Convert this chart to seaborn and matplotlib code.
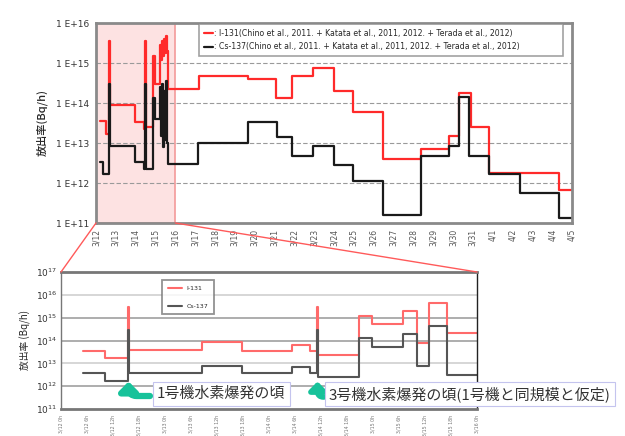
import matplotlib
matplotlib.use("Agg")
import matplotlib.pyplot as plt
from matplotlib.patches import ConnectionPatch
import seaborn as sns

# top chart: days since 3/12 0:00, release rate (Bq/h), step values
top_day_i131 = [0.20, 0.50, 0.66, 0.71, 1.97, 2.42, 2.47, 2.52, 2.87, 2.97, 3.23, 3.28, 3.33, 3.38, 3.43,
                3.48, 3.53, 3.58, 3.63, 5.20, 7.67, 9.10, 9.88, 10.94, 12.00, 12.96, 14.47, 16.39, 17.80,
                18.30, 18.90, 19.82, 23.35, 24.00]
top_i131 = [3.5e13, 1.7e13, 3.5e15, 9.0e13, 3.4e13, 2.3e13, 3.5e15, 2.5e13, 1.5e15, 3.0e14, 2.8e15, 1.2e15,
            3.5e15, 1.5e15, 4.0e15, 1.8e15, 4.6e15, 2.0e15, 2.2e14, 4.6e14, 4.0e14, 1.35e14, 4.6e14, 7.3e14,
            2.0e14, 5.8e13, 3.9e12, 6.9e12, 1.5e13, 1.8e14, 2.5e13, 1.8e12, 6.5e11, 6.5e11]
top_day_cs137 = [0.20, 0.35, 0.66, 0.71, 1.97, 2.42, 2.47, 2.52, 2.87, 2.97, 3.23, 3.28, 3.33, 3.38, 3.43,
                 3.48, 3.53, 3.58, 3.63, 5.15, 7.67, 9.13, 9.88, 10.94, 12.00, 12.96, 14.47, 16.39, 17.80,
                 18.30, 18.80, 19.82, 21.38, 23.35, 24.00]
top_cs137 = [3.3e12, 1.7e12, 3.0e14, 8.3e12, 3.3e12, 2.2e12, 3.0e14, 2.2e12, 1.3e14, 4.0e13, 2.5e14, 1.5e13,
             3.0e14, 8.0e12, 2.0e14, 1.2e13, 3.5e14, 1.0e13, 3.0e12, 1.0e13, 3.4e13, 1.4e13, 4.6e12, 8.3e12,
             2.8e12, 1.15e12, 1.6e11, 4.6e12, 8.3e12, 1.4e14, 4.6e12, 1.7e12, 5.7e11, 1.3e11, 1.3e11]
top_dates = ["3/12", "3/13", "3/14", "3/15", "3/16", "3/17", "3/18", "3/19", "3/20", "3/21", "3/22", "3/23",
             "3/24", "3/25", "3/26", "3/27", "3/28", "3/29", "3/30", "3/31", "4/1", "4/2", "4/3", "4/4", "4/5"]
top_yticks = [1e11, 1e12, 1e13, 1e14, 1e15, 1e16]
top_ylabels = ["1 E+11", "1 E+12", "1 E+13", "1 E+14", "1 E+15", "1 E+16"]

# bottom chart: hours since 3/12 0:00
bot_hour = [5.0, 10.2, 15.4, 15.8, 32.5, 41.7, 53.2, 57.4, 59.0, 59.4, 68.8, 71.7, 79.0, 82.1, 85.0, 89.0, 96.0]
bot_i131 = [3.4e13, 1.7e13, 2.9e15, 3.8e13, 8.5e13, 3.4e13, 6.3e13, 3.4e13, 2.9e15, 2.3e13, 1.2e15, 5.3e14,
            1.9e15, 7.8e13, 4.4e15, 2.1e14, 2.1e14]
bot_cs137 = [3.7e12, 1.65e12, 3.0e14, 3.7e12, 8.0e12, 3.7e12, 6.7e12, 3.7e12, 3.0e14, 2.5e12, 1.25e14, 5.0e13,
             1.9e14, 7.4e12, 4.3e14, 3.0e12, 3.0e12]
bot_ticks = list(range(0, 97, 6))
bot_ticklabels = [f"3/{12 + h // 24} {h % 24}h" for h in bot_ticks]

top_legend = [": I-131(Chino et al., 2011. + Katata et al., 2011, 2012. + Terada et al., 2012)",
              ": Cs-137(Chino et al., 2011. + Katata et al., 2011, 2012. + Terada et al., 2012)"]
note1 = "1号機水素爆発の頃"
note2 = "3号機水素爆発の頃(1号機と同規模と仮定)"

sns.set_theme(style="white")
plt.rcParams["font.family"] = ["Noto Sans CJK JP", "DejaVu Sans"]

W, H = 625, 436
fig = plt.figure(figsize=(W / 100, H / 100), dpi=100)
ax1 = fig.add_axes([96 / W, 1 - 223 / H, 476 / W, 200 / H])
ax2 = fig.add_axes([61 / W, 1 - 409 / H, 416 / W, 137 / H])

# ---- top chart
ax1.axvspan(0, 4, facecolor="#fde2e2", edgecolor="#f39a9a", lw=1.2, zorder=0)
sns.lineplot(x=top_day_i131, y=top_i131, ax=ax1, drawstyle="steps-post", color="#ff2a2a", lw=1.6,
             estimator=None, label=top_legend[0])
sns.lineplot(x=top_day_cs137, y=top_cs137, ax=ax1, drawstyle="steps-post", color="#1a1a1a", lw=1.6,
             estimator=None, label=top_legend[1])
ax1.set_yscale("log")
ax1.set_ylim(1e11, 1e16)
ax1.set_xlim(0, 24)
ax1.set_yticks(top_yticks)
ax1.set_yticklabels(top_ylabels, fontsize=6.5, color="#333333", family="DejaVu Sans")
ax1.minorticks_off()
ax1.set_xticks(range(25))
ax1.set_xticklabels(top_dates, rotation=90, fontsize=5.5, color="#555555", family="DejaVu Sans")
ax1.tick_params(axis="x", direction="in", length=3, width=0.6, color="#666666", pad=4)
ax1.tick_params(axis="y", length=0, pad=5)
for y in top_yticks[1:-1]:
    ax1.axhline(y, color="#9a9a9a", lw=0.8, ls=(0, (4, 2)), zorder=0.5)
for s in ax1.spines.values():
    s.set_color("#8a8a8a")
    s.set_linewidth(2)
ax1.set_ylabel("放出率(Bq/h)", fontsize=8, fontweight="medium", labelpad=6)
leg1 = ax1.legend(loc="lower left", bbox_to_anchor=(0.208, 0.815, 0.782, 0.16), mode="expand",
                  handlelength=1.2, handletextpad=0.1, frameon=True, fancybox=False,
                  borderpad=0.6, labelspacing=0.55, prop={"family": "DejaVu Sans", "size": 5.6})
leg1.get_frame().set_edgecolor("#8a8a8a")
leg1.get_frame().set_linewidth(1.2)

# ---- bottom chart
sns.lineplot(x=bot_hour, y=bot_i131, ax=ax2, drawstyle="steps-post", color="#ff6a6a", lw=1.5,
             estimator=None, label="I-131")
sns.lineplot(x=bot_hour, y=bot_cs137, ax=ax2, drawstyle="steps-post", color="#555555", lw=1.5,
             estimator=None, label="Cs-137")
ax2.set_yscale("log")
ax2.set_ylim(1e11, 1e17)
ax2.set_xlim(0, 96)
ax2.minorticks_off()
ax2.set_yticks([10.0 ** k for k in range(11, 18)])
ax2.set_yticklabels([f"$10^{{{k}}}$" for k in range(11, 18)], fontsize=6.5, color="#333333")
ax2.set_xticks(bot_ticks)
ax2.set_xticklabels(bot_ticklabels, rotation=90, fontsize=3.4, color="#777777", family="DejaVu Sans")
ax2.tick_params(axis="x", direction="out", length=2, width=0.6, color="#888888", pad=2)
ax2.tick_params(axis="y", length=0, pad=3)
for k in range(12, 17):
    ax2.axhline(10.0 ** k, color="#a0a0a0" if k in (12, 14, 15) else "#d0d0d0", lw=1.2, zorder=0.5)
for name, s in ax2.spines.items():
    s.set_color("#777777")
    s.set_linewidth(2 if name in ("top", "bottom") else 1)
ax2.spines["right"].set_color("#222222")
ax2.set_ylabel("放出率 (Bq/h)", fontsize=7, labelpad=3)
leg2 = ax2.legend(loc="upper left", bbox_to_anchor=(0.236, 0.965), handlelength=2.2,
                  labelspacing=2.0, borderpad=0.9, frameon=True, fancybox=False,
                  prop={"family": "DejaVu Sans", "size": 4.5})
leg2.get_frame().set_edgecolor("#777777")
leg2.get_frame().set_linewidth(1.3)

# connectors from the zoomed span
for xa, xb in [(0, 0), (4, 96)]:
    con = ConnectionPatch(xyA=(xa, 1e11), coordsA=ax1.transData, xyB=(xb, 1e17), coordsB=ax2.transData,
                          color="#ff5a5a", lw=1)
    fig.add_artist(con)

# notes
green = "#17c29a"
box = dict(boxstyle="square,pad=0.3", facecolor="white", edgecolor="#c4c4ee", lw=0.8)
fig.text(157 / W, 1 - 394 / H, note1, fontsize=10.8, color="#333333", va="center", ha="left", bbox=box)
fig.text(329 / W, 1 - 394 / H, note2, fontsize=10.8, color="#333333", va="center", ha="left", bbox=box)
ax2.annotate("", xy=(15.6, 1.6e12), xytext=(150 / W, 1 - 396 / H), textcoords="figure fraction",
             arrowprops=dict(arrowstyle="-|>,head_width=0.45,head_length=0.45", color=green, lw=4.5,
                             shrinkA=0, shrinkB=0,
                             connectionstyle="angle,angleA=0,angleB=90,rad=8"))
ax2.annotate("", xy=(59.2, 1.6e12), xytext=(324 / W, 1 - 397 / H), textcoords="figure fraction",
             arrowprops=dict(arrowstyle="-|>,head_width=0.4,head_length=0.4", color=green, lw=4,
                             shrinkA=0, shrinkB=0,
                             connectionstyle="angle,angleA=0,angleB=90,rad=6"))

fig.savefig("out.png", dpi=100)
